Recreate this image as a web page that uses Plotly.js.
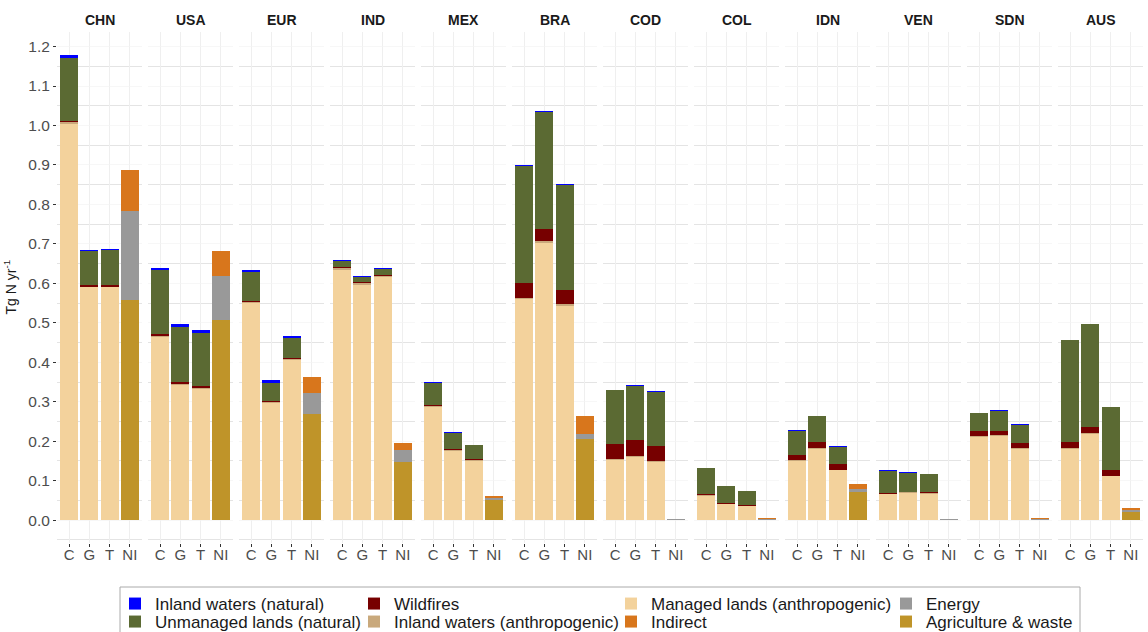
<!DOCTYPE html>
<html><head><meta charset="utf-8">
<script src="https://cdn.plot.ly/plotly-3.0.1.min.js"></script>
<style>html,body{margin:0;padding:0;background:#fff}#chart{width:1148px;height:632px}</style>
</head><body><div id="chart"></div>
<script>
const regions = ['CHN','USA','EUR','IND','MEX','BRA','COD','COL','IDN','VEN','SDN','AUS'];
const landCategories = ['C','G','T'];
const categories = ['C','G','T','NI'];
const yTicks = [0,0.1,0.2,0.3,0.4,0.5,0.6,0.7,0.8,0.9,1.0,1.1,1.2];

// Land-based series, per region: [C, G, T]  (Tg N / y)
const managedLands = [
  [1.005,0.590,0.590],[0.463,0.342,0.332],[0.550,0.296,0.405],[0.635,0.597,0.615],
  [0.287,0.175,0.150],[0.560,0.703,0.543],[0.153,0.161,0.147],[0.062,0.040,0.036],
  [0.150,0.181,0.126],[0.066,0.069,0.067],[0.211,0.213,0.181],[0.181,0.219,0.111]];
const inlandWatersAnthro = [
  [0.003,0.002,0.002],[0.003,0.003,0.003],[0.003,0.003,0.003],[0.003,0.003,0.003],
  [0.002,0.002,0.002],[0.004,0.004,0.004],[0.002,0.002,0.002],[0.001,0.001,0.001],
  [0.002,0.002,0.002],[0.001,0.001,0.001],[0.002,0.002,0.002],[0.002,0.002,0.002]];
const wildfires = [
  [0.004,0.004,0.004],[0.005,0.006,0.005],[0.003,0.003,0.003],[0.003,0.003,0.003],
  [0.003,0.003,0.003],[0.036,0.032,0.035],[0.038,0.039,0.039],[0.002,0.002,0.002],
  [0.013,0.015,0.014],[0.002,0.002,0.002],[0.012,0.012,0.012],[0.015,0.015,0.014]];
const unmanagedLands = [
  [0.160,0.085,0.088],[0.162,0.138,0.134],[0.072,0.046,0.050],[0.016,0.014,0.016],
  [0.056,0.042,0.035],[0.298,0.296,0.268],[0.136,0.139,0.137],[0.066,0.044,0.036],
  [0.062,0.065,0.044],[0.056,0.048,0.047],[0.046,0.050,0.047],[0.258,0.261,0.159]];
const inlandWatersNatural = [
  [0.006,0.004,0.004],[0.007,0.007,0.007],[0.006,0.006,0.006],[0.002,0.002,0.002],
  [0.001,0.001,0.001],[0.003,0.003,0.003],[0.001,0.001,0.001],[0.000,0.000,0.000],
  [0.001,0.001,0.001],[0.001,0.001,0.001],[0.001,0.001,0.001],[0.001,0.001,0.001]];

// NI (national inventory) series, per region
const agricultureWaste = [0.557,0.506,0.268,0.148,0.050,0.206,0.001,0.001,0.072,0.001,0.001,0.020];
const energy           = [0.227,0.112,0.054,0.030,0.005,0.012,0.001,0.001,0.008,0.002,0.001,0.005];
const indirect         = [0.103,0.063,0.040,0.017,0.005,0.045,0.001,0.003,0.012,0.000,0.004,0.005];

// legend slot: [column, row]
const landSeries = [
  {name:'Managed lands (anthropogenic)', data:managedLands, color:'#F3D29C', slot:[2,0]},
  {name:'Inland waters (anthropogenic)', data:inlandWatersAnthro, color:'#C9A97C', slot:[1,1]},
  {name:'Wildfires', data:wildfires, color:'#770000', slot:[1,0]},
  {name:'Unmanaged lands (natural)', data:unmanagedLands, color:'#5B6A33', slot:[0,1]},
  {name:'Inland waters (natural)', data:inlandWatersNatural, color:'#0000FF', slot:[0,0]}
];
const niSeries = [
  {name:'Agriculture & waste', data:agricultureWaste, color:'#BF9429', slot:[3,1]},
  {name:'Energy', data:energy, color:'#999999', slot:[3,0]},
  {name:'Indirect', data:indirect, color:'#D8761C', slot:[2,1]}
];
const legendId = s => { const n = s.slot[1] * 4 + s.slot[0] + 1; return n === 1 ? 'legend' : 'legend' + n; };

// geometry (px)
const W = 1148, H = 632, ML = 57, MR = 5, MT = 32, MB = 89;
const plotW = W - ML - MR, plotH = H - MT - MB;
const pitch = 91, panelW = 85;
const px2x = p => (p - ML) / plotW;
const py2y = p => 1 - (p - MT) / plotH;

const traces = [];
regions.forEach((r, i) => {
  const xa = 'x' + (i + 1), ya = 'y' + (i + 1);
  landSeries.forEach(s => {
    traces.push({type:'bar', x:landCategories, y:s.data[i], name:s.name, xaxis:xa, yaxis:ya,
      marker:{color:s.color, line:{width:0}}, legendgroup:s.name, showlegend:i===0,
      legend:legendId(s), hoverinfo:'x+y+name'});
  });
  niSeries.forEach(s => {
    traces.push({type:'bar', x:['NI'], y:[s.data[i]], name:s.name, xaxis:xa, yaxis:ya,
      marker:{color:s.color, line:{width:0}}, legendgroup:s.name, showlegend:i===0,
      legend:legendId(s), hoverinfo:'x+y+name'});
  });
});

const minorVals = [];
for (let k = -1; k < 12; k++) minorVals.push(+(k * 0.1 + 0.05).toFixed(2));

const font = 'Liberation Sans, Arial, Helvetica, sans-serif';
const layout = {
  width:W, height:H, margin:{l:ML, r:MR, t:MT, b:MB, pad:0, autoexpand:false},
  paper_bgcolor:'#fff', plot_bgcolor:'#fff',
  barmode:'stack', bargap:0.1,
  font:{family:font, color:'#1a1a1a'},
  annotations:[], shapes:[]
};
regions.forEach((r, i) => {
  const x0 = i * pitch, x1 = x0 + panelW;
  layout['xaxis' + (i + 1)] = {
    domain:[x0 / plotW, x1 / plotW], anchor:'y' + (i + 1),
    type:'category', categoryorder:'array', categoryarray:categories,
    range:[-0.6, 3.6], showgrid:true, gridcolor:'#efefef', gridwidth:1,
    zeroline:false, showline:false, ticks:'outside', ticklen:3, tickwidth:1, tickcolor:'#333',
    ticklabelstandoff:-5,
    tickfont:{size:15, color:'#4d4d4d', family:font}, fixedrange:true, automargin:false
  };
  const yax = {
    anchor:'x' + (i + 1), range:[-0.058, 1.237],
    tickmode:'array', tickvals:yTicks, tickformat:'.1f',
    showticklabels:i === 0, ticks:i === 0 ? 'outside' : '', ticklen:3, tickwidth:1, tickcolor:'#333',
    tickfont:{size:15.5, color:'#4d4d4d', family:font},
    showgrid:true, gridcolor:'#f4f4f4', gridwidth:0.7,
    minor:{tickmode:'array', tickvals:minorVals, showgrid:true, gridcolor:'#e4e4e4', gridwidth:1, ticks:''},
    zeroline:false, showline:false, fixedrange:true, automargin:false
  };
  if (i > 0) yax.matches = 'y';
  layout['yaxis' + (i + 1)] = yax;
  layout.annotations.push({text:'<b>' + r + '</b>', xref:'paper', yref:'paper',
    x:(x0 + panelW / 2) / plotW, y:py2y(20), xanchor:'center', yanchor:'middle',
    showarrow:false, font:{size:14, color:'#1a1a1a', family:font}});
});
// y-axis title
layout.annotations.push({text:'Tg N yr<sup>-1</sup>', xref:'paper', yref:'paper',
  x:px2x(10), y:0.5, xanchor:'center', yanchor:'middle', textangle:-90,
  showarrow:false, font:{size:14, color:'#1a1a1a', family:font}});

// legends: one per entry, laid out in 4 columns x 2 rows
const legendCols = [115, 354, 611, 886];
const legendRowsTop = [586, 604];
for (let row = 0; row < 2; row++) {
  for (let col = 0; col < 4; col++) {
    const n = row * 4 + col + 1;
    layout[n === 1 ? 'legend' : 'legend' + n] = {
      x:px2x(legendCols[col]), xanchor:'left', y:py2y(legendRowsTop[row]), yanchor:'top',
      orientation:'v', bgcolor:'rgba(0,0,0,0)', borderwidth:0,
      font:{size:17, color:'#1a1a1a', family:font}, itemclick:false, itemdoubleclick:false};
  }
}
layout.shapes.push({type:'rect', xref:'paper', yref:'paper',
  x0:px2x(120), x1:px2x(1080), y0:py2y(587), y1:py2y(660),
  line:{color:'#aaaaaa', width:1}, fillcolor:'rgba(0,0,0,0)', layer:'below'});

Plotly.newPlot('chart', traces, layout, {staticPlot:true, displayModeBar:false});
</script></body></html>
